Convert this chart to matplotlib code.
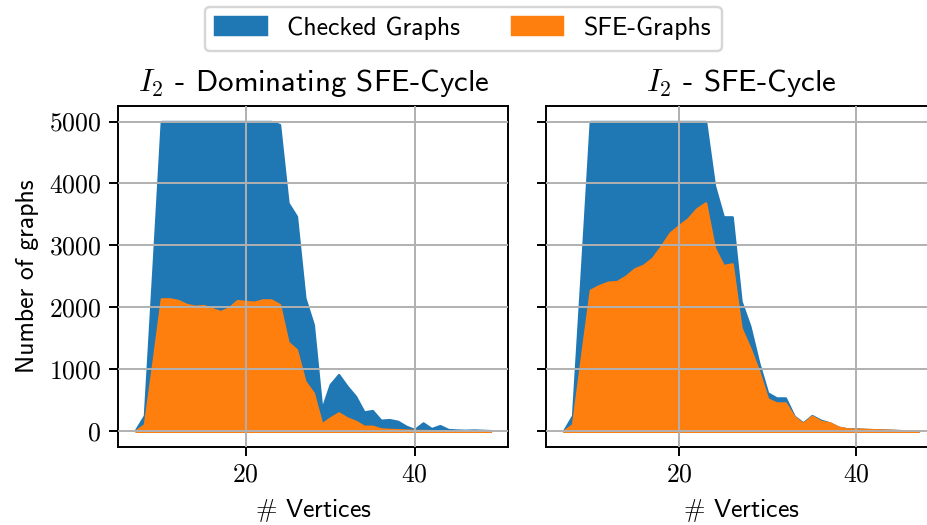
import matplotlib
matplotlib.use("Agg")
import matplotlib.pyplot as plt
from matplotlib.ticker import FuncFormatter

plt.rcParams['font.family'] = ['cmss10', 'DejaVu Sans']
plt.rcParams['mathtext.fontset'] = 'cm'
plt.rcParams['axes.unicode_minus'] = False
plt.rcParams['font.size'] = 10.6

# --- data ---
x_left = list(range(7, 50))
checked_left = [30, 253, 2600, 5000, 5000, 5000, 5000, 5000, 5000, 5000, 5000, 5000,
                5000, 5000, 5000, 5000, 5000, 4950, 3687, 3471, 2153, 1722, 350, 753,
                915, 726, 565, 312, 334, 178, 188, 161, 80, 27, 135, 43, 91, 27,
                20, 15, 20, 15, 10]
sfe_left = [10, 108, 1100, 2137, 2137, 2110, 2045, 2018, 2029, 1980, 1932, 1991,
            2110, 2093, 2083, 2120, 2120, 2045, 1437, 1318, 807, 619, 118, 215,
            296, 215, 161, 81, 81, 38, 30, 25, 20, 15, 12, 10, 8, 6,
            5, 4, 3, 3, 2]

x_right = list(range(7, 48))
checked_right = [10, 253, 2600, 5000, 5000, 5000, 5000, 5000, 5000, 5000, 5000, 5000,
                 5000, 5000, 5000, 5000, 5000, 3967, 3461, 3461, 2099, 1695, 1103, 619,
                 538, 538, 242, 135, 253, 178, 135, 65, 38, 38, 30, 25, 20, 15,
                 10, 5, 5]
sfe_right = [5, 108, 1200, 2277, 2352, 2406, 2417, 2503, 2621, 2680, 2793, 2987,
             3202, 3321, 3428, 3590, 3687, 2960, 2675, 2702, 1668, 1345, 969, 522,
             457, 457, 231, 124, 242, 161, 135, 65, 38, 35, 30, 25, 20, 15,
             10, 5, 3]

titles = [r'$I_2$ - Dominating SFE-Cycle', r'$I_2$ - SFE-Cycle']

fig = plt.figure(figsize=(927 / 175, 525 / 175), dpi=175)
ax1 = fig.add_axes([0.1276, 0.149, 0.4207, 0.649])
ax2 = fig.add_axes([0.589, 0.149, 0.4207, 0.649], sharey=ax1)

panels = [(ax1, x_left, checked_left, sfe_left), (ax2, x_right, checked_right, sfe_right)]
for (ax, x, chk, sfe), title in zip(panels, titles):
    ax.fill_between(x, chk, color='tab:blue', label='Checked Graphs')
    ax.fill_between(x, sfe, color='tab:orange', label='SFE-Graphs')
    ax.grid(True)
    ax.set_axisbelow(False)
    ax.set_title(title)
    ax.set_xlabel(r'$\#$ Vertices')
    ax.set_xticks([20, 40])
    ax.xaxis.set_major_formatter(FuncFormatter(lambda v, p: f'${v:.0f}$'))

ax1.yaxis.set_major_formatter(FuncFormatter(lambda v, p: f'${v:.0f}$'))
ax1.set_ylabel('Number of graphs')
ax2.tick_params(labelleft=False)

handles, labels = ax1.get_legend_handles_labels()
fig.legend(handles, labels, loc='upper center', bbox_to_anchor=(0.5, 1.012), ncol=2)

fig.savefig('out.png', dpi=175)
